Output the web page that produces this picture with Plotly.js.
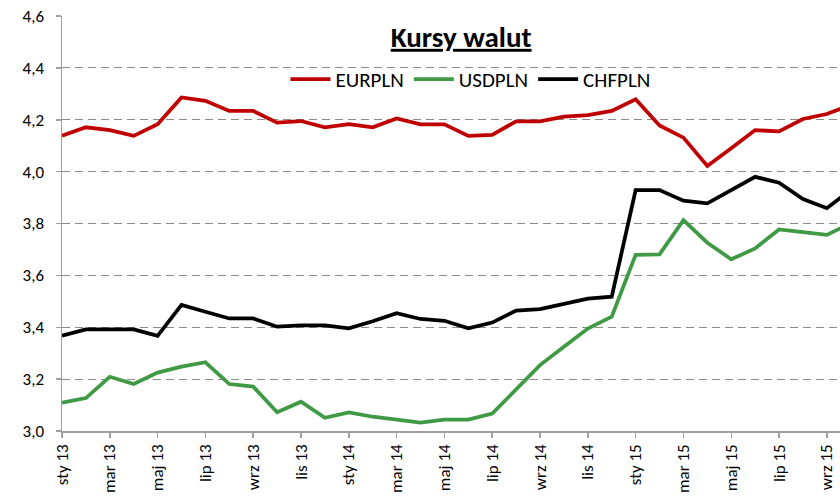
<!DOCTYPE html>
<html>
<head>
<meta charset="utf-8">
<script src="https://cdn.plot.ly/plotly-3.0.1.min.js"></script>
<style>
html,body{margin:0;padding:0;background:#fff;overflow:hidden;}
#chart{width:840px;height:496px;}
</style>
</head>
<body>
<div id="chart"></div>
<script>
const months = ["sty 13","lut 13","mar 13","kwi 13","maj 13","cze 13","lip 13","sie 13","wrz 13","paź 13","lis 13","gru 13",
  "sty 14","lut 14","mar 14","kwi 14","maj 14","cze 14","lip 14","sie 14","wrz 14","paź 14","lis 14","gru 14",
  "sty 15","lut 15","mar 15","kwi 15","maj 15","cze 15","lip 15","sie 15","wrz 15","paź 15"];

const eurpln = [4.138,4.171,4.160,4.138,4.183,4.286,4.273,4.234,4.234,4.189,4.195,4.171,
  4.183,4.171,4.205,4.182,4.182,4.138,4.142,4.194,4.194,4.212,4.218,4.234,
  4.279,4.178,4.131,4.022,4.090,4.160,4.155,4.203,4.222,4.258];

const usdpln = [3.109,3.127,3.209,3.181,3.225,3.248,3.265,3.181,3.171,3.072,3.113,3.051,
  3.072,3.055,3.044,3.032,3.044,3.044,3.067,3.158,3.254,3.325,3.395,3.441,
  3.679,3.681,3.813,3.726,3.662,3.704,3.777,3.767,3.756,3.801];

const chfpln = [3.367,3.392,3.392,3.392,3.367,3.486,3.460,3.434,3.434,3.402,3.407,3.407,
  3.396,3.423,3.454,3.432,3.425,3.396,3.418,3.464,3.470,3.490,3.510,3.518,
  3.929,3.929,3.888,3.878,3.929,3.980,3.957,3.894,3.859,3.929];

const seriesNames = ["EURPLN","USDPLN","CHFPLN"];
const seriesColors = ["#c00000","#3f9945","#000000"];
const tickLabels = months.filter((m,i)=>i%2===0);

const font = "Carlito, Lato, 'Open Sans', sans-serif";

const traces = [eurpln, usdpln, chfpln].map((vals, k) => ({
  type: 'scatter', mode: 'lines',
  x: months, y: vals, name: seriesNames[k],
  line: {color: seriesColors[k], width: 3.75}
}));

const layout = {
  width: 840, height: 496,
  margin: {l: 62, r: 0, t: 16, b: 65},
  paper_bgcolor: '#fff', plot_bgcolor: '#fff',
  separators: ', ',
  font: {family: font, size: 17, color: '#000'},
  title: {
    text: '<u><b>Kursy walut</b></u>',
    font: {family: font, size: 29, color: '#000'},
    xref: 'container', yref: 'container', x: 0.549, y: 0.926,
    xanchor: 'center', yanchor: 'middle'
  },
  showlegend: true,
  legend: {
    orientation: 'h', x: 0.525, xanchor: 'center', y: 0.847, yanchor: 'middle',
    font: {family: font, size: 21, color: '#000'},
    bgcolor: 'rgba(255,255,255,0)', itemwidth: 40, tracegroupgap: 0
  },
  xaxis: {
    type: 'category', range: [0, 32.55],
    tickmode: 'array', tickvals: tickLabels, ticktext: tickLabels,
    tickangle: -90, ticks: 'outside', ticklen: 5, tickcolor: '#a0a0a0', tickwidth: 1.5,
    showline: true, linecolor: '#a0a0a0', linewidth: 1.5,
    showgrid: false, zeroline: false,
    tickfont: {family: font, size: 17, color: '#000'}
  },
  yaxis: {
    range: [3.0, 4.6], tickmode: 'linear', tick0: 3.0, dtick: 0.2, tickformat: '.1f',
    ticks: 'outside', ticklen: 5, tickcolor: '#a0a0a0', tickwidth: 1.5,
    showline: true, linecolor: '#a0a0a0', linewidth: 1.5,
    showgrid: true, gridcolor: '#8c8c8c', gridwidth: 1.2, griddash: '8px,5px',
    zeroline: false, ticklabelstandoff: 8,
    tickfont: {family: font, size: 17, color: '#000'}
  }
};

Plotly.newPlot('chart', traces, layout, {displayModeBar: false, staticPlot: true});
</script>
</body>
</html>
